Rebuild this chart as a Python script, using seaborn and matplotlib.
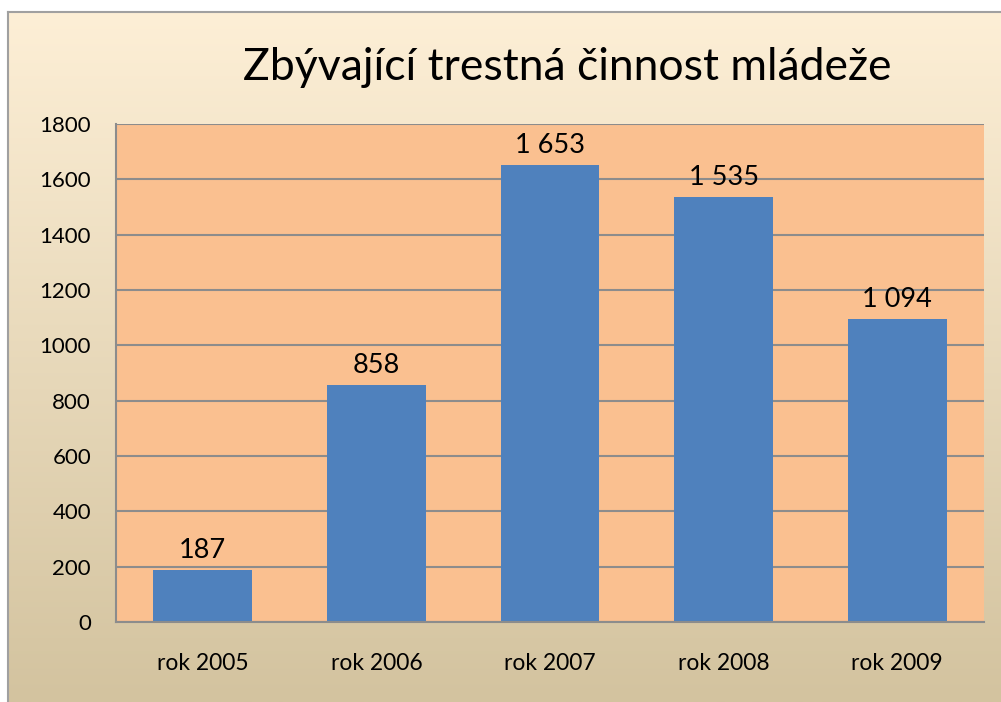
"""
Zbyvajici trestna cinnost mladeze - bar chart
"""
import numpy as np
import pandas as pd
import matplotlib
matplotlib.use('Agg')
import matplotlib.pyplot as plt
from matplotlib.colors import LinearSegmentedColormap
import seaborn as sns

# data
years = ['rok 2005', 'rok 2006', 'rok 2007', 'rok 2008', 'rok 2009']
counts = [187, 858, 1653, 1535, 1094]
y_ticks = [0, 200, 400, 600, 800, 1000, 1200, 1400, 1600, 1800]
title = 'Zbývající trestná činnost mládeže'

df = pd.DataFrame({'rok': years, 'pocet': counts})

sns.set_theme(style='white')
plt.rcParams['font.family'] = ['Lato', 'DejaVu Sans']
plt.rcParams['text.color'] = 'black'
plt.rcParams['xtick.color'] = 'black'
plt.rcParams['ytick.color'] = 'black'

fig = plt.figure(figsize=(10.01, 7.02), dpi=100)
fig.patch.set_facecolor('white')

# gradient background panel with grey frame
bg = fig.add_axes([8 / 1001, 0, 1 - 8 / 1001, 1 - 12 / 702])
grad = LinearSegmentedColormap.from_list('bg', ['#fdefd6', '#d3c39f'])
bg.imshow(np.linspace(0, 1, 256).reshape(-1, 1), aspect='auto', cmap=grad,
          extent=[0, 1, 0, 1])
bg.set_xticks([])
bg.set_yticks([])
for side in ['right', 'bottom']:
    bg.spines[side].set_visible(False)
for side in ['left', 'top']:
    bg.spines[side].set_color('#a0a0a0')
    bg.spines[side].set_linewidth(1.5)

ax = fig.add_axes([116 / 1001, 1 - 622 / 702, (984 - 116) / 1001, (622 - 124) / 702])
ax.set_facecolor('#fac090')
ax.set_axisbelow(True)
ax.yaxis.grid(True, color='#8c8c8c', linewidth=1.5)

sns.barplot(data=df, x='rok', y='pocet', color='#4f81bd', saturation=1,
            width=0.57, linewidth=0, ax=ax)

ax.set_ylim(0, 1800)
ax.set_yticks(y_ticks)
ax.set_xlabel('')
ax.set_ylabel('')
ax.tick_params(axis='y', labelsize=16, pad=18, length=0)
ax.tick_params(axis='x', labelsize=16.5, pad=22, length=0)

for side in ['top', 'right']:
    ax.spines[side].set_visible(False)
for side in ['left', 'bottom']:
    ax.spines[side].set_color('#8c8c8c')
    ax.spines[side].set_linewidth(1.5)

for i, v in enumerate(counts):
    txt = f'{v:,}'.replace(',', ' ')
    ax.text(i, v + 25, txt, ha='center', va='bottom', fontsize=19.5)

fig.text(567 / 1001, 1 - 68 / 702, title, ha='center', va='center', fontsize=32)

fig.savefig('out.png', dpi=100)
